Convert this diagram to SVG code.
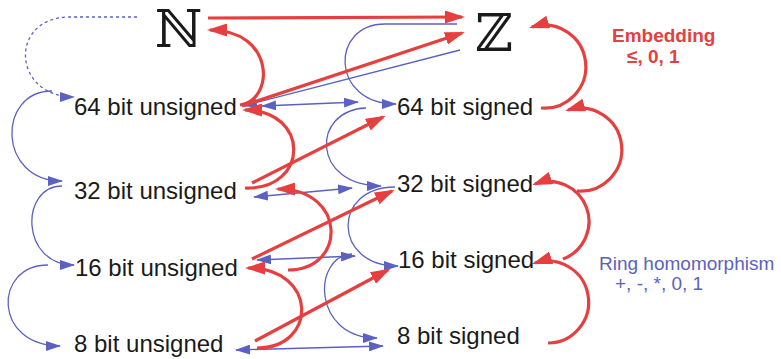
<svg xmlns="http://www.w3.org/2000/svg" width="781" height="359" viewBox="0 0 781 359">
<style>
.lbl{font-family:"Liberation Sans",Arial,sans-serif;font-size:24px;fill:#1a1a1a}
.bb{font-family:"DejaVu Serif","DejaVu Sans",serif;font-size:52px;fill:#1a1a1a}
.red{fill:none;stroke:#e5403f;stroke-width:3.2}
.blue{fill:none;stroke:#5b61c1;stroke-width:1.3}
.dot{stroke-dasharray:3,3}
.emb{font-family:"Liberation Sans",Arial,sans-serif;font-size:19px;font-weight:bold;fill:#e5403f}
.ring{font-family:"Liberation Sans",Arial,sans-serif;font-size:19px;fill:#5b61c1}
</style>
<defs>
<marker id="ar" viewBox="0 0 20 13" refX="17" refY="6.5" markerWidth="20" markerHeight="13" markerUnits="userSpaceOnUse" orient="auto"><path d="M0,0 L20,6.5 L0,13 z" fill="#e5403f"/></marker>
<marker id="ab" viewBox="0 0 15 10" refX="14" refY="5" markerWidth="15" markerHeight="10" markerUnits="userSpaceOnUse" orient="auto-start-reverse"><path d="M0,0 L15,5 L0,10 z" fill="#5b61c1"/></marker>
</defs>
<g id="connectors">
<g id="blue-connectors">
<path class="blue dot" d="M137,17 L70,17 C8,17 12,97 74,97" marker-end="url(#ab)"/>
<path class="blue" d="M52,91 C-3,91 -3,181 62,181" marker-end="url(#ab)"/>
<path class="blue" d="M62,186 C20,186 20,265 74,265" marker-end="url(#ab)"/>
<path class="blue" d="M48,265 C-7,265 -7,346 60,346" marker-end="url(#ab)"/>
<path class="blue" d="M457,24 L385,24 C330,24 330,104 396,104" marker-end="url(#ab)"/>
<path class="blue" d="M460,50 L243,106" marker-end="url(#ab)"/>
<path class="blue" d="M262,106 L358,102" marker-start="url(#ab)" marker-end="url(#ab)"/>
<path class="blue" d="M366,108 C311,110 311,186 381,186" marker-end="url(#ab)"/>
<path class="blue" d="M254,197 L352,188" marker-start="url(#ab)" marker-end="url(#ab)"/>
<path class="blue" d="M395,187 C332,187 332,266 398,266" marker-end="url(#ab)"/>
<path class="blue" d="M257,260 L355,256" marker-start="url(#ab)" marker-end="url(#ab)"/>
<path class="blue" d="M352,254 C312,256 312,338 377,338" marker-end="url(#ab)"/>
<path class="blue" d="M236,350 L383,346" marker-start="url(#ab)" marker-end="url(#ab)"/>
</g>
<g id="red-connectors">
<path class="red" d="M208,18 L462,17" marker-end="url(#ar)"/>
<path class="red" d="M240,105 C275,100 275,30 210,30" marker-end="url(#ar)"/>
<path class="red" d="M242,106 L462,33" marker-end="url(#ar)"/>
<path class="red" d="M252,183 L383,117" marker-end="url(#ar)"/>
<path class="red" d="M245,188 C310,190 310,110 245,110" marker-end="url(#ar)"/>
<path class="red" d="M252,259 L392,191" marker-end="url(#ar)"/>
<path class="red" d="M288,270 C347,270 347,189 278,189" marker-end="url(#ar)"/>
<path class="red" d="M255,341 L388,270" marker-end="url(#ar)"/>
<path class="red" d="M257,348 C318,348 318,268 248,268" marker-end="url(#ar)"/>
<path class="red" d="M541,108 A41.5,41.5 0 1 0 532,27" marker-end="url(#ar)"/>
<path class="red" d="M577,191 A41.5,41.5 0 1 0 568,110" marker-end="url(#ar)"/>
<path class="red" d="M563,259 A40,40 0 0 0 535,184" marker-end="url(#ar)"/>
<path class="red" d="M548,343 A41,41 0 1 0 535,263" marker-end="url(#ar)"/>
</g>
</g>
<g id="N"><text class="bb" x="155" y="47">ℕ</text></g>
<g id="Z"><text class="bb" x="475" y="51">ℤ</text></g>
<g id="u64"><text class="lbl" x="74" y="115">64 bit unsigned</text></g>
<g id="u32"><text class="lbl" x="74" y="199">32 bit unsigned</text></g>
<g id="u16"><text class="lbl" x="75" y="276">16 bit unsigned</text></g>
<g id="u8"><text class="lbl" x="74" y="352">8 bit unsigned</text></g>
<g id="s64"><text class="lbl" x="397" y="115">64 bit signed</text></g>
<g id="s32"><text class="lbl" x="397" y="192">32 bit signed</text></g>
<g id="s16"><text class="lbl" x="398" y="268">16 bit signed</text></g>
<g id="s8"><text class="lbl" x="397" y="344">8 bit signed</text></g>
<g id="legend-embedding"><text class="emb" x="612" y="42">Embedding</text><text class="emb" x="627" y="63">≤, 0, 1</text></g>
<g id="legend-ring"><text class="ring" x="599" y="270">Ring homomorphism</text><text class="ring" x="615" y="290">+, -, *, 0, 1</text></g>
</svg>
